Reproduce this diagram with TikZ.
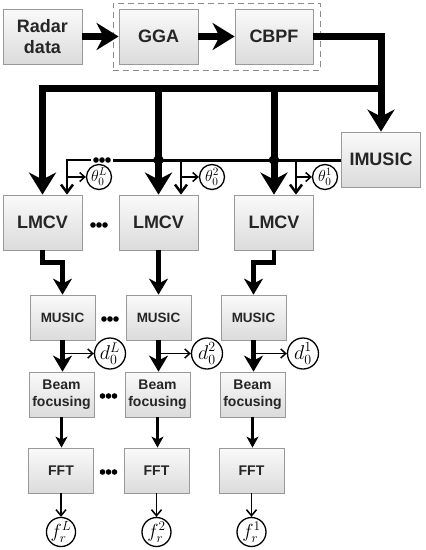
\RequirePackage{fix-cm}
\documentclass[tikz,border=0pt]{standalone}
\usepackage{fontspec}
\setmainfont{Liberation Sans}
\usetikzlibrary{arrows.meta,calc}
\begin{document}
\begin{tikzpicture}[x=1pt,y=-1pt,
  box/.style={draw=black!40, line width=0.8pt, top color=black!2, bottom color=black!14,
    inner sep=0pt, align=center, text=black!85},
  bigbox/.style={box, minimum width=79pt, minimum height=55pt,
    font=\fontsize{18}{21}\selectfont\bfseries},
  smallbox/.style={box, minimum width=65pt, minimum height=45pt,
    font=\fontsize{14}{16.5}\selectfont\bfseries},
  musicbox/.style={smallbox, font=\fontsize{13.5}{16}\selectfont\bfseries},
  valnode/.style={draw, circle, line width=1.3pt, inner sep=0pt},
  thnode/.style={valnode, minimum size=25pt, font=\fontsize{16}{16}\selectfont},
  dnode/.style={valnode, minimum size=31pt, font=\fontsize{20}{20}\selectfont},
  fnode/.style={valnode, minimum size=29pt, font=\fontsize{19}{19}\selectfont},
  bigarrow/.style={line width=7pt, -{Stealth[length=22pt,width=27pt,inset=7pt]}},
  midarrow/.style={line width=4.5pt, -{Stealth[length=16pt,width=19pt,inset=5pt]}},
  smallarrow/.style={line width=2.5pt, -{Stealth[length=11pt,width=12pt,inset=3pt]}},
  thinarrow/.style={line width=1.5pt, -{Straight Barb[length=6pt,width=10pt]}},
  feedline/.style={line width=3pt},
  feedarrow/.style={line width=2.5pt, -{Straight Barb[length=8pt,width=12pt]}},
  probe/.style={line width=1.5pt, -{Straight Barb[length=5pt,width=9pt]}},
  dotsrow/.pic={\foreach \dx in {-6,0,6} \fill (\dx,0) circle (2.8);}
]
\path[use as bounding box, fill=white] (0,0) rectangle (426,550);

% group frame
\node[draw=black!45, dashed, dash pattern=on 6pt off 4pt, line width=0.9pt,
  minimum width=207pt, minimum height=67pt, inner sep=0pt] (grp) at (216.5,36.5) {};

% top row
\node[bigbox] (radar) at (42.5,36.5) {Radar\\data};
\node[bigbox] (gga) at (158.5,36.5) {GGA};
\node[bigbox, minimum width=78pt] (cbpf) at (274,36.5) {CBPF};
\node[bigbox] (imusic) at (381,159.5) {IMUSIC};

% LMCV row
\node[bigbox] (lmcv1) at (42.5,222.5) {LMCV};
\node[bigbox] (lmcv2) at (158.5,222.5) {LMCV};
\node[bigbox] (lmcv3) at (274,222.5) {LMCV};

% MUSIC row
\node[musicbox] (music1) at (62.5,317.5) {MUSIC};
\node[musicbox] (music2) at (158.5,317.5) {MUSIC};
\node[musicbox] (music3) at (253.5,317.5) {MUSIC};

% Beam focusing row
\node[smallbox] (beam1) at (61.5,394.5) {Beam\\focusing};
\node[smallbox] (beam2) at (157.5,394.5) {Beam\\focusing};
\node[smallbox] (beam3) at (252.5,394.5) {Beam\\focusing};

% FFT row
\node[smallbox] (fft1) at (61,470.5) {FFT};
\node[smallbox] (fft2) at (156.5,470.5) {FFT};
\node[smallbox] (fft3) at (251.5,470.5) {FFT};

% value circles
\node[thnode] (thL) at (99,177) {$\theta_0^L$};
\node[thnode] (th2) at (212,177) {$\theta_0^2$};
\node[thnode] (th1) at (325,177) {$\theta_0^1$};
\node[dnode] (dL) at (110,353.5) {$d_0^L$};
\node[dnode] (d2) at (207,353.5) {$d_0^2$};
\node[dnode] (d1) at (303,353.5) {$d_0^1$};
\node[fnode] (fL) at (61,532) {$f_r^L$};
\node[fnode] (f2) at (156.5,532) {$f_r^2$};
\node[fnode] (f1) at (251.5,532) {$f_r^1$};

% coordinates
\coordinate (jR) at (381,88);
\coordinate (fbL) at (67,160);
\coordinate (fb2) at (181,160);
\coordinate (fb3) at (296,160);
\coordinate (gapL) at (91,160);
\coordinate (gapR) at (113,160);

% top flow
\draw[bigarrow] (radar.east) -- (gga.west);
\draw[bigarrow] (gga.east) -- (cbpf.west);
\draw[bigarrow] (cbpf.east) -| (imusic.north);
\draw[bigarrow] (jR) -| (lmcv1.north);
\draw[bigarrow] (jR -| lmcv2.north) -- (lmcv2.north);
\draw[bigarrow] (jR -| lmcv3.north) -- (lmcv3.north);

% feedback from IMUSIC
\draw[feedline] (imusic.west |- fbL) -- (gapR);
\draw[feedarrow] (gapL) -- (fbL) -- (fbL |- lmcv1.north);
\draw[feedarrow] (fb2) -- (fb2 |- lmcv2.north);
\draw[feedarrow] (fb3) -- (fb3 |- lmcv3.north);
\fill (lmcv2.north |- fbL) ellipse (5.5 and 4.5);
\fill (lmcv3.north |- fbL) ellipse (5.5 and 4.5);
\draw[probe] (fbL |- thL) -- (thL.west);
\draw[probe] (fb2 |- th2) -- (th2.west);
\draw[probe] (fb3 |- th1) -- (th1.west);

% LMCV -> MUSIC
\draw[midarrow] (lmcv1.south) -- ++(0,12) -| (music1.north);
\draw[midarrow] (lmcv2.south) -- (music2.north);
\draw[midarrow] (lmcv3.south) -- ++(0,12) -| (music3.north);

% MUSIC -> Beam
\draw[midarrow] (music1.south) -- (music1.south |- beam1.north);
\draw[midarrow] (music2.south) -- (music2.south |- beam2.north);
\draw[midarrow] (music3.south) -- (music3.south |- beam3.north);
\draw[probe] (music1.south |- dL) -- (dL.west);
\draw[probe] (music2.south |- d2) -- (d2.west);
\draw[probe] (music3.south |- d1) -- (d1.west);

% Beam -> FFT
\draw[smallarrow] (beam1.south) -- (beam1.south |- fft1.north);
\draw[smallarrow] (beam2.south) -- (beam2.south |- fft2.north);
\draw[smallarrow] (beam3.south) -- (beam3.south |- fft3.north);

% FFT -> f
\draw[thinarrow] (fft1.south) -- (fft1.south |- fL.north);
\draw[thinarrow] (fft2.south) -- (fft2.south |- f2.north);
\draw[thinarrow] (fft3.south) -- (fft3.south |- f1.north);

% ellipsis dots
\pic at (102,160) {dotsrow};
\pic at (99,225) {dotsrow};
\pic at (110,319) {dotsrow};
\pic at (108.5,396) {dotsrow};
\pic at (108.5,472) {dotsrow};
\end{tikzpicture}
\end{document}
